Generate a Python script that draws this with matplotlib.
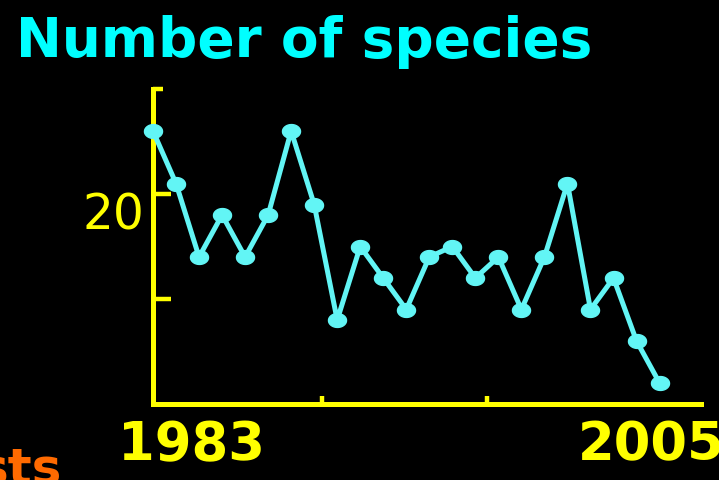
import matplotlib
matplotlib.use("Agg")
import matplotlib.pyplot as plt
import numpy as np
from matplotlib.path import Path
from matplotlib.markers import MarkerStyle

# ---------------------------------------------------------------------------
# Data
# ---------------------------------------------------------------------------
years = list(range(1983, 2006))
species = [26, 21, 14, 18, 14, 18, 26, 19, 8, 15, 12, 9,
           14, 15, 12, 14, 9, 14, 21, 9, 12, 6, 2]
x_ticks = [1990.33, 1997.5]
y_ticks = [10, 20]
title = "Number of species"
first_label, last_label = "1983", "2005"
y_label = "20"

YELLOW = "#ffff00"
CYAN = "#00ffff"
LINE = "#62f5f5"
ORANGE = "#ff6a00"

plt.rcParams["font.family"] = ["DejaVu Sans"]

fig = plt.figure(figsize=(7.19, 4.81), dpi=100, facecolor="black")
ax = fig.add_axes([153 / 719, 76 / 481, 548 / 719, 315 / 481])
ax.set_facecolor("black")

# ellipse marker (wider than tall)
t = np.linspace(0, 2 * np.pi, 40)
ellipse = Path(np.column_stack([1.3 * np.cos(t), np.sin(t)]), closed=True)

ax.plot(years, species, color=LINE, lw=3.6, marker=MarkerStyle(ellipse),
        ms=13, mfc=LINE, mec=LINE, clip_on=False, zorder=3)

ax.set_xlim(1983, 2006.8)
ax.set_ylim(0, 30)

for side in ("top", "right"):
    ax.spines[side].set_visible(False)
for side in ("left", "bottom"):
    ax.spines[side].set_color(YELLOW)
    ax.spines[side].set_linewidth(3.6)
    ax.spines[side].set_capstyle("projecting")

ax.set_xticks(x_ticks)
ax.set_xticklabels([])
ax.set_yticks(y_ticks)
ax.set_yticklabels([])
ax.set_yticks([30], minor=True)
ax.tick_params(axis="y", which="major", direction="in", length=13, width=3.2,
               color=YELLOW)
ax.tick_params(axis="y", which="minor", direction="in", length=7, width=3.2,
               color=YELLOW)
ax.tick_params(axis="x", direction="in", length=6, width=3.2, color=YELLOW)

# labels
ax.text(-0.015, 20.3, y_label, transform=ax.get_yaxis_transform(),
        ha="right", va="top", color=YELLOW, fontsize=35)
fig.text(192 / 719, 1 - 445 / 481, first_label, ha="center", va="center",
         color=YELLOW, fontsize=38, fontweight="bold")
fig.text(578 / 719, 1 - 445 / 481, last_label, ha="left", va="center",
         color=YELLOW, fontsize=38, fontweight="bold")
fig.text(16 / 719, 1 - 42 / 481, title, ha="left", va="center",
         color=CYAN, fontsize=39.5, fontweight="bold")
fig.text(-0.03, 1 - 470 / 481, "sts", ha="left", va="center",
         color=ORANGE, fontsize=36, fontweight="bold")

fig.savefig("out.png", dpi=100, facecolor="black")
